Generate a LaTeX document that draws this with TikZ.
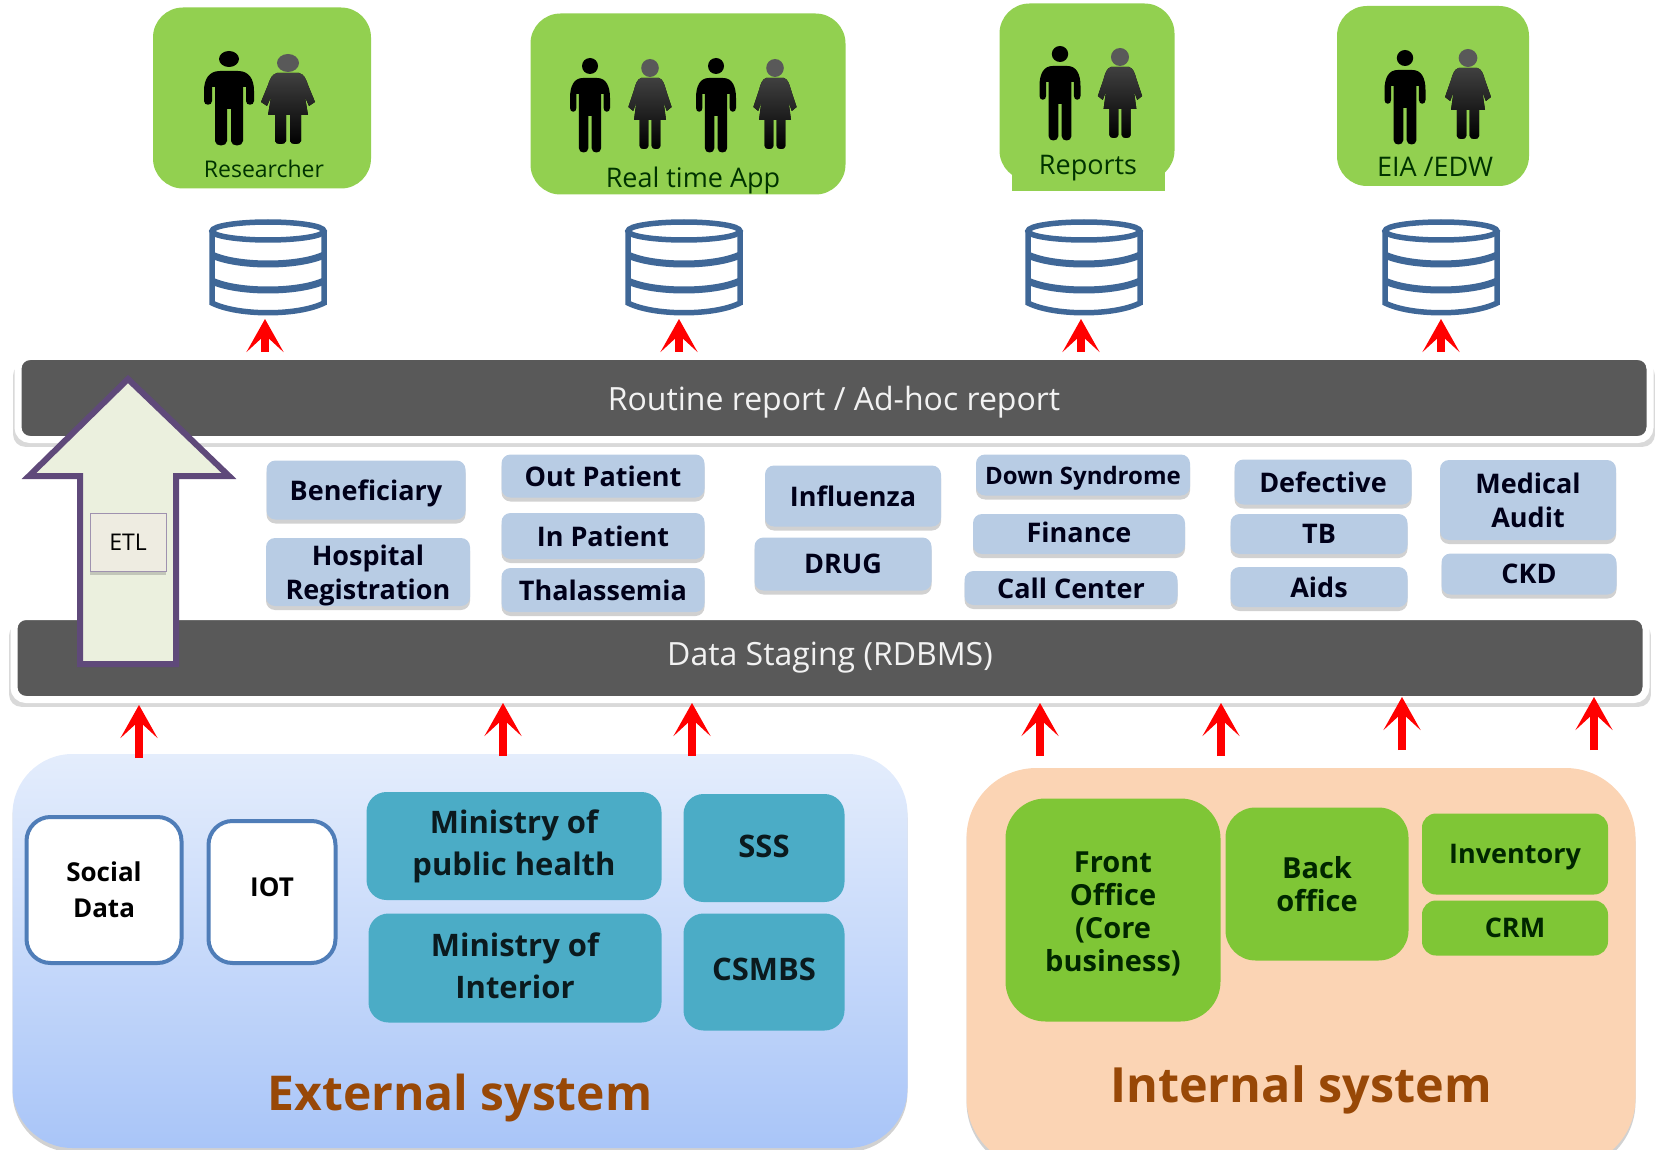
\documentclass[tikz,border=0pt]{standalone}
\usepackage{xcolor}
\usepackage{fontspec}
\setmainfont{Open Sans}
\usetikzlibrary{arrows.meta,shadows}

\definecolor{usergreen}{HTML}{92D050}
\definecolor{officegreen}{HTML}{7FC636}
\definecolor{dbblue}{HTML}{3F6797}
\definecolor{rimblue}{HTML}{4F7DB8}
\definecolor{barback}{HTML}{595959}
\definecolor{paleblue}{HTML}{B8CCE4}
\definecolor{tealfill}{HTML}{4BACC6}
\definecolor{brownlabel}{HTML}{984807}
\definecolor{etlpurple}{HTML}{5F497A}
\definecolor{etlfill}{HTML}{EBF0DE}
\definecolor{etlbox}{HTML}{EEECE1}
\definecolor{peach}{HTML}{FBD4B4}
\definecolor{skytop}{HTML}{E4EDFC}
\definecolor{skybottom}{HTML}{A9C5F8}

\tikzset{
  softshadow/.style={drop shadow={shadow xshift=0pt,shadow yshift=-4pt,opacity=.3,fill=black!60}},
  usersbox/.style={fill=usergreen,rounded corners=30pt,inner sep=0pt},
  userstext/.style={font=\fontsize{27}{30}\selectfont,text=black!80!green},
  database/.style={minimum width=117pt,minimum height=97pt,inner sep=0pt,outer sep=0pt},
  dbline/.style={draw=dbblue,line width=5.5pt},
  dbband/.style={draw=dbblue,line width=7pt},
  redarrow/.style={->,red,line width=8pt},
  reportbar/.style={fill=barback,draw=white,line width=7pt,rounded corners=12pt,text=white!95!black,font=\fontsize{32}{36}\selectfont,minimum width=1632pt,minimum height=83pt,
    drop shadow={shadow xshift=0pt,shadow yshift=-7pt,shadow scale=1.006,opacity=.25,fill=black!60}},
  subject/.style={fill=paleblue,rounded corners=9pt,align=center,inner sep=0pt,font=\bfseries\fontsize{27}{34}\selectfont,text=black!90!blue,softshadow},
  whitebox/.style={fill=white,draw=rimblue,line width=4pt,rounded corners=24pt,align=center,inner sep=0pt,font=\bfseries\fontsize{26}{36}\selectfont},
  tealbox/.style={fill=tealfill,rounded corners=20pt,align=center,inner sep=0pt,font=\bfseries\fontsize{31}{42}\selectfont,text=black!85!tealfill},
  officebox/.style={fill=officegreen,align=center,inner sep=0pt,font=\bfseries\fontsize{29}{33}\selectfont,text=black!85!green},
  systemtitle/.style={text=brownlabel,font=\bfseries\fontsize{48.5}{52}\selectfont},
  man/.pic={
    \fill[black] (0,8) ellipse [x radius=10,y radius=8];
    \fill[black] (-9,20) -- (9,20) .. controls (20,20) and (25,28) .. (25,40) -- (25,50)
      .. controls (25,55) and (17,55) .. (17,50) -- (17,36) -- (14,36) -- (14,90)
      .. controls (14,96) and (2,96) .. (2,90) -- (2,58) -- (-2,58) -- (-2,90)
      .. controls (-2,96) and (-14,96) .. (-14,90) -- (-14,36) -- (-17,36) -- (-17,50)
      .. controls (-17,55) and (-25,55) .. (-25,50) -- (-25,40)
      .. controls (-25,28) and (-20,20) .. (-9,20) -- cycle;
  },
  woman/.pic={
    \fill[black!65] (0,8) ellipse [x radius=11,y radius=9];
    \fill[top color=black!75,bottom color=black] (-11,18) -- (11,18) .. controls (16,19) and (18,24) .. (20,30)
      -- (27,47) -- (21,51) -- (17,42) -- (20,60) -- (13,60) -- (13,86)
      .. controls (13,90) and (2,90) .. (2,86) -- (2,60) -- (-2,60) -- (-2,86)
      .. controls (-2,90) and (-13,90) .. (-13,86) -- (-13,60) -- (-20,60) -- (-17,42)
      -- (-21,51) -- (-27,47) -- (-20,30) .. controls (-18,24) and (-16,19) .. (-11,18) -- cycle;
  }
}

\begin{document}
\begin{tikzpicture}[x=1pt,y=-1pt,>={Stealth[length=33pt,width=37pt,inset=17pt]}]
  \useasboundingbox (0,0) rectangle (1655,1150);

  % user groups
  \node[usersbox,minimum width=218pt,minimum height=181pt] (researcher) at (262,98) {};
  \node[usersbox,minimum width=315pt,minimum height=181pt] (realtime) at (688,104) {};
  \node[usersbox,minimum width=175pt,minimum height=177pt] (reports) at (1087,92) {};
  \fill[usergreen] (1012,150) rectangle (1165,191);
  \node[usersbox,minimum width=192pt,minimum height=180pt] (eia) at (1433,96) {};

  \pic at (229,51) {man};
  \pic at (288,55) {woman};
  \pic[xscale=.8] at (590,58) {man};
  \pic[xscale=.8] at (650,60) {woman};
  \pic[xscale=.8] at (716,58) {man};
  \pic[xscale=.8] at (775,60) {woman};
  \pic[xscale=.82] at (1060,46) {man};
  \pic[xscale=.82] at (1120,49) {woman};
  \pic[xscale=.82] at (1405,50) {man};
  \pic[xscale=.85] at (1468,50) {woman};

  \node[userstext,font=\fontsize{23}{26}\selectfont] (researcherlabel) at (264,169) {Researcher};
  \node[userstext] (realtimelabel) at (693,180) {Real time App};
  \node[userstext] (reportslabel) at (1088,168) {Reports};
  \node[userstext] (eialabel) at (1435,167) {EIA /EDW};

  % data marts
  \foreach \n/\x in {dba/268,dbb/684,dbc/1084,dbd/1441} {
    \node[database] (\n) at (\x,266.5) {};
    \draw[dbline,fill=white] ({\x-56},231) -- ({\x-56},303) .. controls ({\x-30},316) and ({\x+30},316) .. ({\x+56},303) -- ({\x+56},231);
    \draw[dbline,fill=white] (\x,231) ellipse [x radius=56,y radius=9];
    \draw[dbband] ({\x-56},255) .. controls ({\x-30},267) and ({\x+30},267) .. ({\x+56},255);
    \draw[dbband] ({\x-56},281) .. controls ({\x-30},293) and ({\x+30},293) .. ({\x+56},281);
  }

  % bars
  \node[reportbar,text depth=0pt] (routine) at (834,398) {Routine report / Ad-hoc report};
  \node[reportbar] (staging) at (830,658) {Data Staging (RDBMS)};

  % etl
  \draw[etlpurple,line width=6pt,fill=etlfill] (128,379) -- (229,476) -- (176,476) -- (176,664)
    -- (80,664) -- (80,476) -- (29,476) -- cycle;
  \node[fill=etlbox,draw=etlpurple!60!white,line width=1pt,minimum width=76pt,minimum height=58pt,inner sep=0pt,font=\fontsize{23}{26}\selectfont,softshadow] (etl) at (128,542) {ETL};

  % subject areas
  \node[subject,minimum width=199pt,minimum height=59pt,text depth=0pt] (beneficiary) at (366,490) {Beneficiary};
  \node[subject,minimum width=204pt,minimum height=68pt] (hospital) at (368,572) {\rule{0pt}{27pt}Hospital\\Registration};
  \node[subject,minimum width=203pt,minimum height=43pt] (outpatient) at (603,476) {Out Patient};
  \node[subject,minimum width=203pt,minimum height=46pt] (inpatient) at (603,536) {In Patient};
  \node[subject,minimum width=203pt,minimum height=44pt] (thalassemia) at (603,590) {Thalassemia};
  \node[subject,minimum width=176pt,minimum height=61pt] (influenza) at (853,496) {Influenza};
  \node[subject,minimum width=177pt,minimum height=53pt] (drug) at (843,564) {DRUG};
  \node[subject,minimum width=214pt,minimum height=41pt,font=\bfseries\fontsize{24}{28}\selectfont,text depth=0pt] (down) at (1083,475) {Down Syndrome};
  \node[subject,minimum width=212pt,minimum height=40pt,text depth=4pt] (finance) at (1079,534) {Finance};
  \node[subject,minimum width=213pt,minimum height=34pt] (callcenter) at (1071,588) {Call Center};
  \node[subject,minimum width=177pt,minimum height=45pt] (defective) at (1323,482) {Defective};
  \node[subject,minimum width=177pt,minimum height=40pt] (tb) at (1319,534) {TB};
  \node[subject,minimum width=177pt,minimum height=40pt] (aids) at (1319,587) {Aids};
  \node[subject,minimum width=176pt,minimum height=80pt] (audit) at (1528,500) {Medical\\Audit};
  \node[subject,minimum width=175pt,minimum height=41pt] (ckd) at (1529,574) {CKD};

  % source systems
  \node[top color=skytop,bottom color=skybottom,rounded corners=60pt,minimum width=895pt,minimum height=394pt,softshadow] (external) at (460,951) {};
  \node[fill=peach,rounded corners=70pt,minimum width=669pt,minimum height=400pt,softshadow] (internal) at (1301,968) {};

  \node[whitebox,minimum width=155pt,minimum height=146pt] (social) at (104,890) {Social\\Data};
  \node[whitebox,minimum width=127pt,minimum height=142pt,text depth=10pt] (iot) at (272,892) {IOT};
  \node[tealbox,minimum width=295pt,minimum height=108pt] (mophealth) at (514,846) {Ministry of\\public health};
  \node[tealbox,minimum width=161pt,minimum height=108pt,text depth=4pt] (sss) at (764,848) {SSS};
  \node[tealbox,minimum width=293pt,minimum height=109pt,text depth=4pt] (mointerior) at (515,968) {Ministry of\\Interior};
  \node[tealbox,minimum width=161pt,minimum height=117pt,text depth=6pt] (csmbs) at (764,972) {CSMBS};
  \node[systemtitle,font=\bfseries\fontsize{48}{52}\selectfont] (externallabel) at (460,1098) {External system};

  \node[officebox,rounded corners=40pt,minimum width=215pt,minimum height=223pt] (front) at (1113,910) {\rule{0pt}{29pt}Front\\Office\\(Core\\business)};
  \node[officebox,rounded corners=30pt,minimum width=183pt,minimum height=153pt] (back) at (1317,884) {Back\\office};
  \node[officebox,rounded corners=14pt,minimum width=186pt,minimum height=81pt,font=\bfseries\fontsize{27}{30}\selectfont,text depth=0pt] (inventory) at (1515,854) {Inventory};
  \node[officebox,rounded corners=14pt,minimum width=186pt,minimum height=55pt,font=\bfseries\fontsize{27}{30}\selectfont] (crm) at (1515,928) {CRM};
  \node[systemtitle] (internallabel) at (1301,1090) {Internal system};

  % arrows into the marts
  \foreach \n/\x in {dba/265,dbb/679,dbc/1081,dbd/1441} {
    \coordinate (\n tail) at (\x,352);
    \draw[redarrow,shorten >=4pt] (\n tail) -- (\n tail |- \n.south);
  }

  % arrows into staging
  \foreach \n/\x/\b/\s in {socialtail/139/758/2,moptail/503/756/0,ssstail/692/756/0,fronttail/1040/756/0,backtail/1221/756/0,invtail/1402/750/-6,crmtail/1594/750/-6} {
    \coordinate (\n) at (\x,\b);
    \draw[redarrow,shorten >=\s pt] (\n) -- (\n |- staging.south);
  }
\end{tikzpicture}
\end{document}
